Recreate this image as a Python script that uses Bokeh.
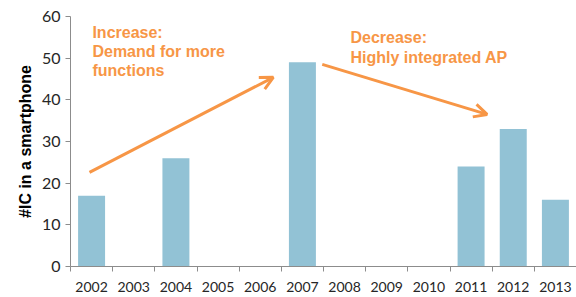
from bokeh.plotting import figure
from bokeh.models import Range1d, FixedTicker, Label, Arrow, OpenHead, ColumnDataSource
from bokeh.embed import file_html
from bokeh.resources import INLINE

years = ["2002", "2003", "2004", "2005", "2006", "2007", "2008", "2009", "2010", "2011", "2012", "2013"]
ic_counts = [17, 0, 26, 0, 0, 49, 0, 0, 0, 24, 33, 16]
y_ticks = [0, 10, 20, 30, 40, 50, 60]

# annotation arrows (data coords: x in category index units, y in #IC)
arrow_x_start = [0.45, 5.97]
arrow_y_start = [22.6, 48.5]
arrow_x_end = [4.81, 9.88]
arrow_y_end = [45.4, 36.5]

text1_lines = ["Increase:", "Demand for more", "functions"]
text1_y = [56.2, 51.6, 47.0]
text1_x = 0.52
text2_lines = ["Decrease:", "Highly integrated AP"]
text2_y = [55.0, 50.2]
text2_x = 6.64

ORANGE = "#F79646"
BAR = "#92C2D5"
AXIS = "#8C8C8C"

centers = [i + 0.5 for i in range(len(years))]
src = ColumnDataSource(dict(x=[c for c, v in zip(centers, ic_counts) if v > 0],
                            top=[v for v in ic_counts if v > 0]))

p = figure(width=576, height=297, output_backend="svg", toolbar_location=None,
           x_range=Range1d(0, len(years)), y_range=Range1d(0, 60),
           min_border_left=70, min_border_right=0, min_border_top=16, min_border_bottom=31)
p.outline_line_color = None
p.grid.visible = False
p.background_fill_color = "white"

p.vbar(x="x", top="top", width=0.64, source=src, fill_color=BAR, line_color=None)

xa = p.xaxis[0]
xa.ticker = FixedTicker(ticks=centers, minor_ticks=list(range(len(years))))
xa.major_label_overrides = {c: y for c, y in zip(centers, years)}
xa.major_tick_line_color = None
xa.major_tick_out = 0
xa.major_tick_in = 0
xa.minor_tick_out = 5
xa.minor_tick_in = 0
xa.minor_tick_line_color = AXIS
xa.axis_line_color = AXIS
xa.major_label_text_font = "Lato"
xa.major_label_text_font_size = "14px"
xa.major_label_text_color = "#262626"
xa.major_label_standoff = 10

ya = p.yaxis[0]
ya.ticker = FixedTicker(ticks=y_ticks)
ya.minor_tick_line_color = None
ya.major_tick_out = 5
ya.major_tick_in = 0
ya.major_tick_line_color = AXIS
ya.axis_line_color = AXIS
ya.major_label_text_font = "Lato"
ya.major_label_text_font_size = "16px"
ya.major_label_text_color = "#262626"
ya.major_label_standoff = 5
ya.axis_label = "#IC in a smartphone"
ya.axis_label_text_font = "Liberation Sans"
ya.axis_label_text_font_style = "bold"
ya.axis_label_text_font_size = "16px"
ya.axis_label_text_color = "#000000"
ya.axis_label_standoff = 5

for xs, ys, xe, ye in zip(arrow_x_start, arrow_y_start, arrow_x_end, arrow_y_end):
    p.add_layout(Arrow(x_start=xs, y_start=ys, x_end=xe, y_end=ye,
                       line_color=ORANGE, line_width=3,
                       end=OpenHead(size=13, line_color=ORANGE, line_width=3)))

for t, yy in zip(text1_lines, text1_y):
    p.add_layout(Label(x=text1_x, y=yy, text=t, text_color=ORANGE, text_font="Liberation Sans",
                       text_font_style="bold", text_font_size="16px", text_baseline="alphabetic"))
for t, yy in zip(text2_lines, text2_y):
    p.add_layout(Label(x=text2_x, y=yy, text=t, text_color=ORANGE, text_font="Liberation Sans",
                       text_font_style="bold", text_font_size="16px", text_baseline="alphabetic"))

open("out.html", "w").write(file_html(p, INLINE))
